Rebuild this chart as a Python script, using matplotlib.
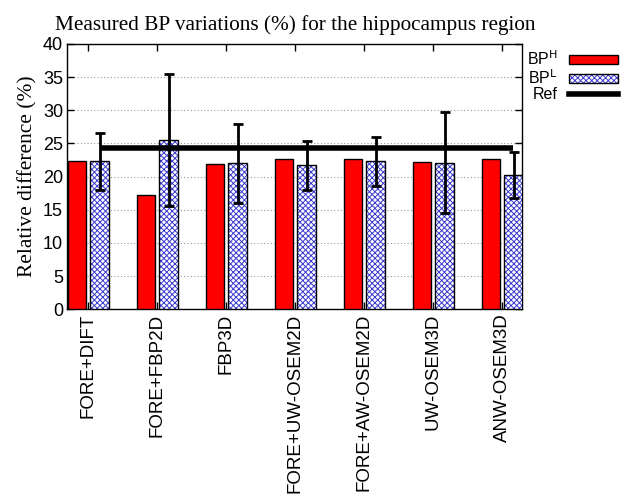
import numpy as np
import matplotlib.pyplot as plt
from matplotlib.lines import Line2D

methods = ['FORE+DIFT', 'FORE+FBP2D', 'FBP3D', 'FORE+UW-OSEM2D',
           'FORE+AW-OSEM2D', 'UW-OSEM3D', 'ANW-OSEM3D']
bp_h = [22.3, 17.2, 21.9, 22.7, 22.7, 22.2, 22.7]
bp_l = [22.3, 25.5, 22.0, 21.7, 22.3, 22.1, 20.2]
bp_l_err = [4.35, 10.0, 5.9, 3.65, 3.65, 7.65, 3.45]
ref_value = 24.3

plt.rcParams['hatch.linewidth'] = 0.7
fig = plt.figure(figsize=(6.27, 4.96), dpi=100, facecolor='white')
ax = fig.add_axes([0.1073, 0.3764, 0.7257, 0.5349])

x = np.arange(len(methods))
w = 0.27
off = 0.165

hb = ax.bar(x - off, bp_h, w, color='#ff0000', edgecolor='black', linewidth=1.0, zorder=3)
lb_fill = ax.bar(x + off, bp_l, w, color='white', edgecolor='#3a3ad0', hatch='xxxxxx',
                 linewidth=0, zorder=3)
lb_edge = ax.bar(x + off, bp_l, w, color='none', edgecolor='black', linewidth=1.0, zorder=4)
ax.errorbar(x + off, bp_l, yerr=bp_l_err, fmt='none', ecolor='black', elinewidth=2,
            capsize=3.5, capthick=2, zorder=5)
ax.hlines(ref_value, off, 6.15, color='black', linewidth=4, zorder=6)

ax.set_xlim(-0.305, 6.29)
ax.set_ylim(0, 40)
ax.set_yticks(range(0, 41, 5))
ax.set_xticks(x)
ax.set_xticklabels(methods, rotation=90, family='Liberation Sans', fontsize=13.5)
for lab in ax.get_yticklabels():
    lab.set_family('Liberation Sans')
    lab.set_fontsize(13)
ax.tick_params(direction='in', top=True, right=True, length=5, width=1, pad=3)
ax.yaxis.grid(True, linestyle=(0, (1, 2)), color='#999999', linewidth=0.8, zorder=0)
ax.set_axisbelow(True)
for s in ax.spines.values():
    s.set_linewidth(1.0)

ax.set_title('Measured BP variations (%) for the hippocampus region',
             family='Liberation Serif', fontsize=15.3, pad=10)
ax.set_ylabel('Relative difference (%)', family='Liberation Serif', fontsize=15.4,
              labelpad=4)

handles = [hb, (lb_fill, lb_edge), Line2D([], [], color='black', linewidth=4)]
labels = ['BP$^{\\mathrm{H}}$', 'BP$^{\\mathrm{L}}$', 'Ref']
fig.legend(handles, labels, loc='upper left', bbox_to_anchor=(0.84, 0.90),
           frameon=False, markerfirst=False, handlelength=3.1, handleheight=0.55,
           labelspacing=0.0, handletextpad=0.7, borderaxespad=0, borderpad=0,
           prop={'family': 'Liberation Sans', 'size': 11.5})

fig.savefig('out.png', dpi=100)
